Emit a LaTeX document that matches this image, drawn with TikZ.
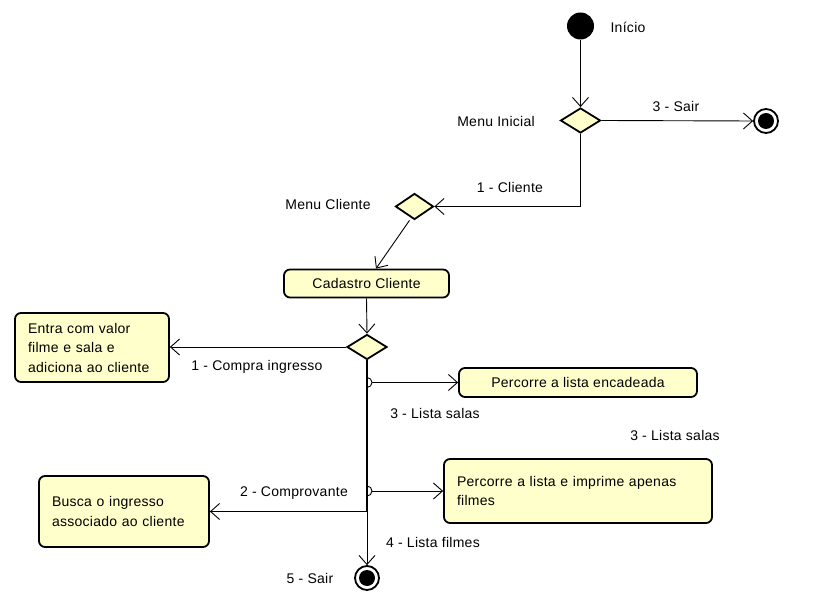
\documentclass[tikz,border=0pt]{standalone}
\usepackage{fontspec}
\setmainfont{Liberation Sans}[LetterSpace=2]
\usetikzlibrary{arrows.meta,shapes.geometric}
\definecolor{actfill}{RGB}{255,255,204}
\begin{document}
\begin{tikzpicture}[x=1pt,y=-1pt,
  every node/.style={font=\fontsize{14}{19.5}\selectfont},
  act/.style={draw,line width=1.8pt,fill=actfill,rounded corners=6pt,inner sep=0pt},
  actml/.style={act,align=left,inner xsep=13pt,inner ysep=0pt},
  dec/.style={draw,line width=1.8pt,fill=actfill,diamond,inner sep=0pt},
  edge/.style={draw,line width=0.9pt,-{Straight Barb[length=9pt,width=16pt,line width=0.9pt]}},
  plain/.style={draw,line width=0.9pt},
  lbl/.style={inner sep=0pt},
  finalnode/.style={circle,draw,line width=1.8pt,fill=white,minimum size=24pt,inner sep=0pt}]
\useasboundingbox (0,0) rectangle (814,601);
% nodes
\node[circle,fill=black,minimum size=27pt,inner sep=0pt] (start) at (580.5,26) {};
\node[lbl] (tstart) at (628,27) {Início};
\node[dec,minimum width=40pt,minimum height=25pt] (mi) at (580.5,120.5) {};
\node[lbl] (tmi) at (496,121) {Menu Inicial};
\node[finalnode] (fin1) at (766,121) {};
\fill (fin1) circle[radius=8];
\node[lbl] (tsair1) at (676,106) {3 - Sair};
\node[dec,minimum width=38pt,minimum height=26pt] (mc) at (414.5,206.5) {};
\node[lbl] (tmc) at (328,204) {Menu Cliente};
\node[lbl] (tcli) at (510,187) {1 - Cliente};
\node[act,minimum width=165pt,minimum height=28pt] (cad) at (366.5,283.5) {Cadastro Cliente};
\node[dec,minimum width=40pt,minimum height=25pt] (d3) at (367,347) {};
\node[actml,minimum width=154pt,minimum height=69pt,text width=128pt] (entra) at (92,347.5) {Entra com valor\\filme e sala e\\adiciona ao cliente};
\node[lbl] (tcompra) at (257,367) {1 - Compra ingresso};
\node[act,minimum width=238pt,minimum height=29pt] (enc) at (578,382.5) {Percorre a lista encadeada};
\node[lbl] (tls1) at (435,413) {3 - Lista salas};
\node[lbl] (tls2) at (675,435) {3 - Lista salas};
\node[actml,minimum width=268pt,minimum height=64pt,text width=242pt] (imp) at (578,491) {Percorre a lista e imprime apenas\\filmes};
\node[lbl] (tlf) at (433,542) {4 - Lista filmes};
\node[actml,minimum width=170pt,minimum height=71pt,text width=144pt] (busca) at (124,511.5) {Busca o ingresso\\associado ao cliente};
\node[lbl] (tcomp) at (294,493) {2 - Comprovante};
\node[finalnode] (fin2) at (367,578) {};
\fill (fin2) circle[radius=8];
\node[lbl] (tsair2) at (310,578) {5 - Sair};
% connectors
\draw[edge] (start) -- (mi.north);
\draw[edge] (mi.east) -- (fin1.west);
\draw[edge] (mi.south) |- (mc.east);
\draw[edge] ([xshift=-5pt]mc.south) -- ([xshift=9.5pt]cad.north);
\draw[edge] (cad.south) -- (d3.north);
\draw[edge] (d3.west) -- (d3.west -| entra.east);
\draw[edge] (d3.south) |- (busca.east);
\draw[edge] (d3.south) -- (fin2.north);
\draw[plain,line width=1.8pt] (d3.south) -- (d3.south |- busca.east);
\draw[plain] ([yshift=5pt]d3.south |- enc.west) arc[start angle=-90,end angle=90,radius=5];
\draw[edge] ([xshift=5pt]d3.south |- enc.west) -- (enc.west);
\draw[plain] ([yshift=5pt]d3.south |- imp.west) arc[start angle=-90,end angle=90,radius=5];
\draw[edge] ([xshift=5pt]d3.south |- imp.west) -- (imp.west);
\end{tikzpicture}
\end{document}
